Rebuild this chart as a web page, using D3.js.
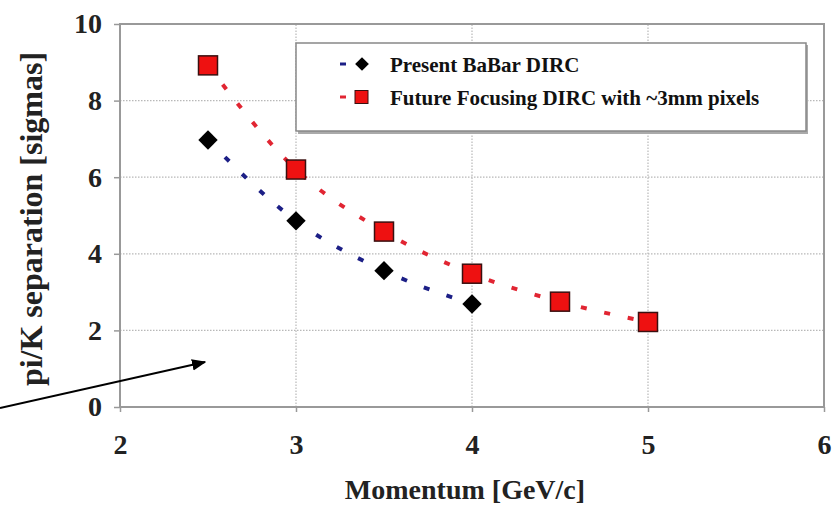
<!DOCTYPE html>
<meta charset="utf-8">
<style>
body {
	margin: 0;
	background: #fff;
}
svg {
	display: block;
	font-family: "Liberation Serif", "DejaVu Serif", serif;
	font-weight: bold;
}
.grid line {
	stroke: #b8b8b8;
	stroke-width: 1.2;
	stroke-dasharray: 1.5 1.5;
}
.tick text {
	font-family: "Liberation Serif", "DejaVu Serif", serif;
	font-weight: bold;
	font-size: 28px;
	fill: #222;
}
</style>
<body>
<svg></svg>
<script src="https://d3js.org/d3.v7.min.js"></script>
<script>

var width = 837, height = 508;
var margin = {top: 24, right: 13, bottom: 101, left: 120};

// tick labels
var xTicks = [2, 3, 4, 5, 6];
var yTicks = [0, 2, 4, 6, 8, 10];

// series: momentum vs pi/K separation
var babarP = [2.5, 3, 3.5, 4];
var babarSep = [6.97, 4.86, 3.56, 2.69];
var focusP = [2.5, 3, 3.5, 4, 4.5, 5];
var focusSep = [8.92, 6.2, 4.58, 3.48, 2.75, 2.22];

var legendLabels = ["Present BaBar DIRC", "Future Focusing DIRC with ~3mm pixels"];

var svg = d3.select("svg")
	.attr("width", width)
	.attr("height", height);

var x = d3.scaleLinear()
	.domain([2, 6])
	.range([margin.left, width - margin.right]);

var y = d3.scaleLinear()
	.domain([0, 10])
	.range([height - margin.bottom, margin.top]);

// gridlines
svg.append("g")
	.attr("class", "grid")
	.selectAll("line")
	.data(yTicks.slice(1, -1))
	.enter().append("line")
	.attr("x1", x(2)).attr("x2", x(6))
	.attr("y1", function(d) { return y(d); })
	.attr("y2", function(d) { return y(d); });

svg.append("g")
	.attr("class", "grid")
	.selectAll("line")
	.data(xTicks.slice(1, -1))
	.enter().append("line")
	.attr("y1", y(0)).attr("y2", y(10))
	.attr("x1", function(d) { return x(d); })
	.attr("x2", function(d) { return x(d); });

// plot frame
svg.append("rect")
	.attr("x", x(2)).attr("y", y(10))
	.attr("width", x(6) - x(2))
	.attr("height", y(0) - y(10))
	.attr("fill", "none")
	.attr("stroke", "#999")
	.attr("stroke-width", 2);

// axes
var xAxis = d3.axisBottom(x)
	.tickValues(xTicks)
	.tickSize(5)
	.tickPadding(22)
	.tickFormat(d3.format("d"));

var gx = svg.append("g")
	.attr("transform", "translate(0," + y(0) + ")")
	.call(xAxis)
	.attr("font-family", null)
	.attr("font-size", null);
gx.select(".domain").remove();
gx.selectAll(".tick line").attr("stroke", "#999").attr("stroke-width", 1.5);

var yAxis = d3.axisLeft(y)
	.tickValues(yTicks)
	.tickSize(6)
	.tickPadding(12)
	.tickFormat(d3.format("d"));

var gy = svg.append("g")
	.attr("transform", "translate(" + x(2) + ",0)")
	.call(yAxis)
	.attr("font-family", null)
	.attr("font-size", null);
gy.select(".domain").remove();
gy.selectAll(".tick line").attr("stroke", "#999").attr("stroke-width", 1.5);

// trend curves
var line = d3.line()
	.x(function(d) { return x(d[0]); })
	.y(function(d) { return y(d[1]); })
	.curve(d3.curveMonotoneX);

var babar = d3.zip(babarP, babarSep);
var focus = d3.zip(focusP, focusSep);

svg.append("path")
	.attr("d", line(babar))
	.attr("fill", "none")
	.attr("stroke", "#1c1f86")
	.attr("stroke-width", 4)
	.attr("stroke-dasharray", "6 18");

svg.append("path")
	.attr("d", line(focus))
	.attr("fill", "none")
	.attr("stroke", "#e12532")
	.attr("stroke-width", 4)
	.attr("stroke-dasharray", "6 18");

// markers
var diamond = d3.symbol().type(d3.symbolDiamond2).size(240);

svg.selectAll(".babar")
	.data(babar)
	.enter().append("path")
	.attr("class", "babar")
	.attr("d", diamond)
	.attr("transform", function(d) { return "translate(" + x(d[0]) + "," + y(d[1]) + ")"; })
	.attr("fill", "#000");

svg.selectAll(".focus")
	.data(focus)
	.enter().append("rect")
	.attr("class", "focus")
	.attr("x", function(d) { return x(d[0]) - 9.5; })
	.attr("y", function(d) { return y(d[1]) - 9.5; })
	.attr("width", 19)
	.attr("height", 19)
	.attr("fill", "#ee1111")
	.attr("stroke", "#3a1010")
	.attr("stroke-width", 1.5);

// legend
var lg = svg.append("g");
lg.append("rect")
	.attr("x", 298).attr("y", 45)
	.attr("width", 510).attr("height", 89)
	.attr("fill", "#aaa");
lg.append("rect")
	.attr("x", 296).attr("y", 43)
	.attr("width", 510).attr("height", 88)
	.attr("fill", "#fff")
	.attr("stroke", "#888")
	.attr("stroke-width", 1.5);

var legColors = ["#1c1f86", "#e12532"];
var legY = [64, 97];
legY.forEach(function(ly, i) {
	lg.append("line")
		.attr("x1", 340).attr("x2", 346)
		.attr("y1", ly).attr("y2", ly)
		.attr("stroke", legColors[i])
		.attr("stroke-width", 3);
	if (i === 0) {
		lg.append("path")
			.attr("d", d3.symbol().type(d3.symbolDiamond2).size(120)())
			.attr("transform", "translate(362," + ly + ")")
			.attr("fill", "#000");
	} else {
		lg.append("rect")
			.attr("x", 355).attr("y", ly - 6.5)
			.attr("width", 13).attr("height", 13)
			.attr("fill", "#ee1111")
			.attr("stroke", "#3a1010");
	}
	lg.append("text")
		.attr("x", 390)
		.attr("y", ly + 8)
		.attr("font-size", 21)
		.attr("fill", "#111")
		.text(legendLabels[i]);
});

// axis titles
svg.append("text")
	.attr("x", 465)
	.attr("y", 499)
	.attr("text-anchor", "middle")
	.attr("font-size", 28)
	.attr("fill", "#222")
	.text("Momentum [GeV/c]");

svg.append("text")
	.attr("transform", "translate(42,219) rotate(-90)")
	.attr("text-anchor", "middle")
	.attr("font-size", 32)
	.attr("fill", "#222")
	.text("pi/K separation [sigmas]");

// arrow
svg.append("defs").append("marker")
	.attr("id", "head")
	.attr("viewBox", "0 0 10 10")
	.attr("refX", 9).attr("refY", 5)
	.attr("markerWidth", 8).attr("markerHeight", 8)
	.attr("orient", "auto")
	.append("path")
	.attr("d", "M0,1L10,5L0,9z")
	.attr("fill", "#000");

svg.append("line")
	.attr("x1", 0).attr("y1", 408)
	.attr("x2", 205).attr("y2", 362)
	.attr("stroke", "#000")
	.attr("stroke-width", 1.8)
	.attr("marker-end", "url(#head)");

</script>
</body>
